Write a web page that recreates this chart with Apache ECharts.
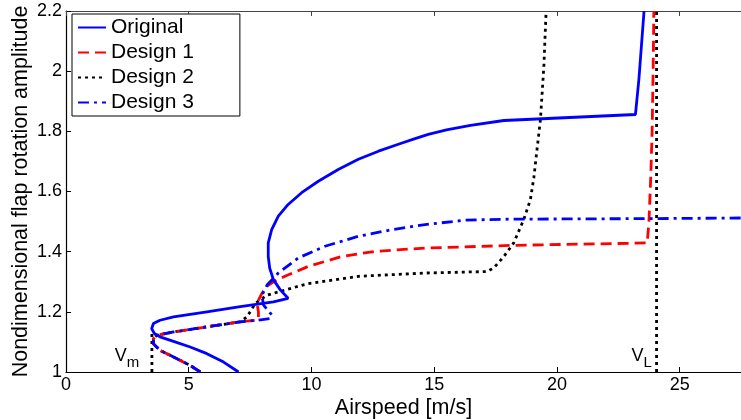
<!DOCTYPE html>
<html>
<head>
<meta charset="utf-8">
<script src="https://cdn.jsdelivr.net/npm/echarts@6/dist/echarts.min.js"></script>
<style>
  html, body { margin: 0; padding: 0; background: #fff; }
  #main { width: 741px; height: 420px; }
</style>
</head>
<body>
<div id="main"></div>
<script>
// data: [airspeed, amplitude]
var original = [
  [7.03, 1.0], [6.42, 1.033], [5.74, 1.061], [5.06, 1.083], [4.38, 1.102], [3.83, 1.117],
  [3.6, 1.128], [3.49, 1.144], [3.56, 1.161], [3.83, 1.172], [4.38, 1.183], [5.74, 1.2],
  [7.1, 1.217], [8.45, 1.233], [9.05, 1.245], [8.73, 1.273], [8.45, 1.307], [8.3, 1.345],
  [8.24, 1.384], [8.24, 1.429], [8.38, 1.473], [8.65, 1.518], [9.05, 1.557], [9.6, 1.596],
  [10.28, 1.634], [11.09, 1.673], [11.91, 1.707], [12.73, 1.734], [13.54, 1.757], [14.22, 1.776],
  [14.76, 1.79], [15.5, 1.805], [16.48, 1.82], [17.84, 1.836], [23.2, 1.856], [23.34, 1.973],
  [23.55, 2.2]
];
var design1 = [
  [5.47, 1.0], [5.06, 1.022], [4.38, 1.05], [3.83, 1.072], [3.56, 1.094], [3.56, 1.111],
  [3.7, 1.122], [4.38, 1.133], [5.74, 1.15], [7.1, 1.167], [7.78, 1.172], [7.84, 1.18],
  [7.84, 1.2], [7.78, 1.228], [7.98, 1.261], [8.18, 1.285], [8.45, 1.3], [8.92, 1.318],
  [9.87, 1.351], [11.23, 1.384], [12.59, 1.401], [14.63, 1.412], [18.24, 1.421], [21.0, 1.425],
  [23.68, 1.429], [23.75, 1.5], [23.82, 1.64], [23.88, 1.8], [23.92, 2.0], [23.95, 2.2]
];
var design2 = [
  [5.47, 1.0], [5.06, 1.022], [4.38, 1.05], [3.83, 1.072], [3.56, 1.094], [3.56, 1.111],
  [3.7, 1.122], [4.38, 1.133], [5.74, 1.15], [7.1, 1.167], [7.37, 1.183], [7.71, 1.228],
  [8.18, 1.255], [8.73, 1.268], [9.82, 1.293], [11.91, 1.318], [14.63, 1.329], [17.16, 1.334],
  [17.43, 1.346], [17.84, 1.384], [18.24, 1.429], [18.65, 1.507], [18.92, 1.573], [19.06, 1.646],
  [19.19, 1.74], [19.33, 1.84], [19.47, 2.018], [19.56, 2.2]
];
var design3 = [
  [5.47, 1.0], [5.06, 1.022], [4.38, 1.05], [3.83, 1.072], [3.56, 1.094], [3.56, 1.111],
  [3.7, 1.122], [4.38, 1.133], [5.74, 1.15], [7.1, 1.167], [7.78, 1.172], [8.32, 1.178],
  [8.39, 1.189], [8.05, 1.222], [7.98, 1.255], [8.2, 1.29], [8.65, 1.329], [9.46, 1.379],
  [10.55, 1.418], [11.91, 1.451], [13.27, 1.473], [14.63, 1.49], [16.3, 1.505], [18.1, 1.508],
  [24.1, 1.51], [27.5, 1.512]
];
// speed limits
var vmLine = [[3.5, 1.0], [3.5, 1.14]];
var vlLine = [[24.06, 1.0], [24.06, 2.2]];

var names = ['Original', 'Design 1', 'Design 2', 'Design 3'];
var xTicks = [0, 27.5, 5];
var yTicks = [1, 2.2, 0.2];

var font = 'Liberation Sans, Arial, sans-serif';
var chart = echarts.init(document.getElementById('main'));

function lineSeries(name, data, color, type) {
  return {
    name: name,
    type: 'line',
    data: data,
    showSymbol: false,
    symbol: 'none',
    animation: false,
    silent: true,
    lineStyle: { color: color, width: 2.8, type: type },
    itemStyle: { color: color },
    z: 3
  };
}

var subLabel = function (main, sub) {
  return {
    show: true,
    formatter: '{v|' + main + '}{s|' + sub + '}',
    rich: {
      v: { fontSize: 18, fontFamily: font, color: '#000' },
      s: { fontSize: 15, fontFamily: font, color: '#000', padding: [14, 0, 0, 0] }
    }
  };
};

var vm = lineSeries('vm', vmLine, '#000', [3, 4]);
vm.markPoint = {
  symbol: 'circle', symbolSize: 0, silent: true, animation: false,
  data: [{ coord: [3.5, 1.0] }],
  label: Object.assign(subLabel('V', 'm'), { position: 'inside', offset: [-25, -16] })
};
var vl = lineSeries('vl', vlLine, '#000', [3, 4]);
vl.markPoint = {
  symbol: 'circle', symbolSize: 0, silent: true, animation: false,
  data: [{ coord: [24.06, 1.0] }],
  label: Object.assign(subLabel('V', 'L'), { position: 'inside', offset: [-15, -16] })
};

chart.setOption({
  backgroundColor: '#fff',
  animation: false,
  grid: { left: 66, right: 0, top: 11, bottom: 48, containLabel: false, outerBoundsMode: 'none' },
  legend: {
    data: names,
    left: 72, top: 14,
    orient: 'vertical',
    backgroundColor: '#fff',
    borderColor: '#000',
    borderWidth: 1,
    padding: [3, 46, 3, 5],
    itemWidth: 28,
    itemHeight: 14,
    itemGap: 4,
    itemStyle: { opacity: 0 },
    textStyle: { fontSize: 21, fontFamily: font, color: '#000' },
    z: 10
  },
  xAxis: [{
    type: 'value',
    min: xTicks[0], max: xTicks[1], interval: xTicks[2],
    name: 'Airspeed [m/s]',
    nameLocation: 'middle',
    nameGap: 25,
    nameMoveOverlap: false,
    nameTextStyle: { fontSize: 21.5, fontFamily: font, color: '#000' },
    axisLine: { lineStyle: { color: '#000', width: 1.2 } },
    axisTick: { inside: true, length: 5, lineStyle: { color: '#000' } },
    axisLabel: { fontSize: 18, fontFamily: font, color: '#000', margin: 4, showMaxLabel: false },
    splitLine: { show: false }
  }, {
    type: 'value',
    position: 'top',
    min: xTicks[0], max: xTicks[1], interval: xTicks[2],
    axisLine: { show: true, onZero: false, lineStyle: { color: '#444', width: 1.2 } },
    axisTick: { inside: true, length: 5, lineStyle: { color: '#444' } },
    axisLabel: { show: false },
    splitLine: { show: false }
  }],
  yAxis: {
    type: 'value',
    min: yTicks[0], max: yTicks[1], interval: yTicks[2],
    name: 'Nondimensional flap rotation amplitude',
    nameLocation: 'middle',
    nameGap: 34,
    nameMoveOverlap: false,
    nameTextStyle: { fontSize: 21.5, fontFamily: font, color: '#000' },
    axisLine: { show: true, lineStyle: { color: '#000', width: 1.2 } },
    axisTick: { show: true, inside: true, length: 5, lineStyle: { color: '#000' } },
    axisLabel: {
      fontSize: 18, fontFamily: font, color: '#000', margin: 4,
      formatter: function (v) { return String(Math.round(v * 10) / 10); }
    },
    splitLine: { show: false }
  },
  series: [
    vm,
    vl,
    lineSeries(names[2], design2, '#000', [3, 4]),
    lineSeries(names[1], design1, '#ff0000', [11, 6]),
    lineSeries(names[3], design3, '#0000ff', [11, 5, 3, 5]),
    lineSeries(names[0], original, '#0000ff', 'solid')
  ]
});
</script>
</body>
</html>
